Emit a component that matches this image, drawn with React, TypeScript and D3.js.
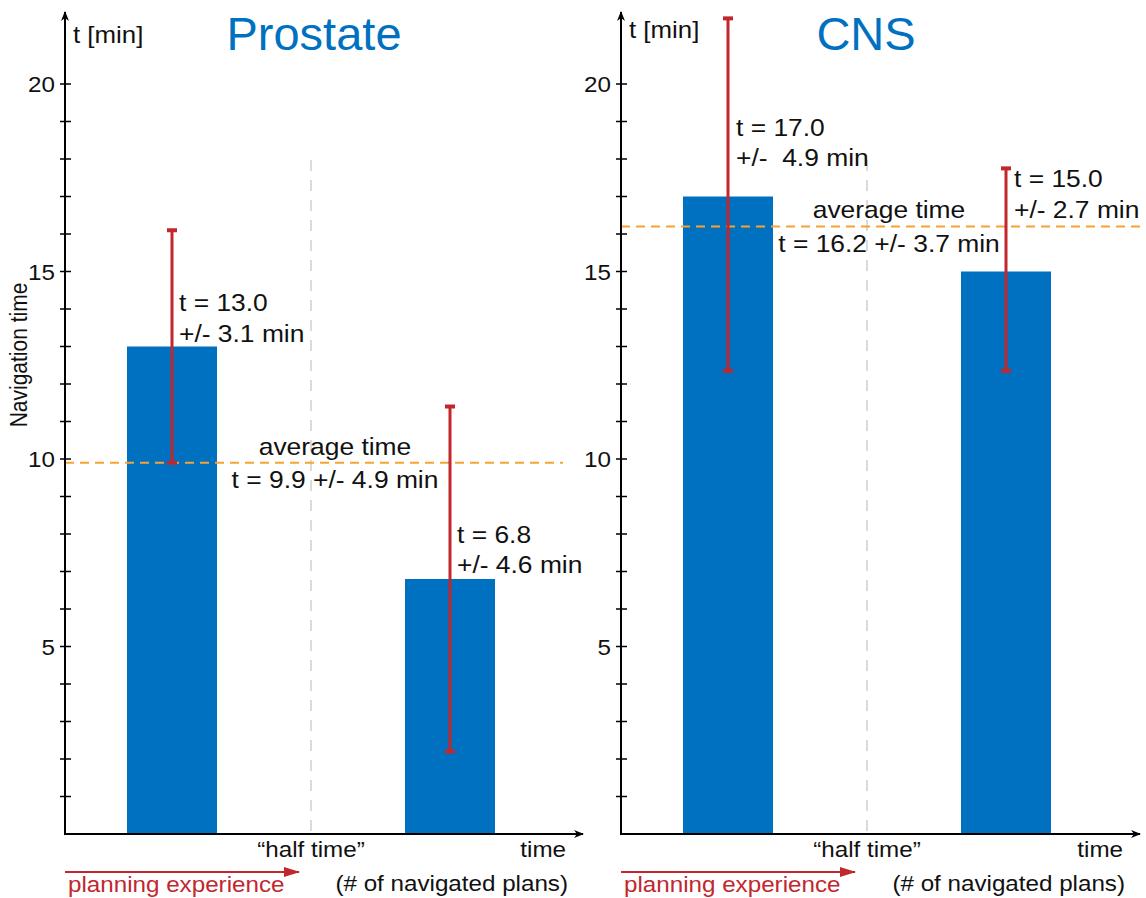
import React from "react";
import * as d3 from "d3";

const panels = ["Prostate", "CNS"];
const phases = ["first half", "second half"];
const prostateMeans = [13.0, 6.8];
const prostateLow = [9.9, 2.2];
const prostateHigh = [16.1, 11.4];
const cnsMeans = [17.0, 15.0];
const cnsLow = [12.35, 12.35];
const cnsHigh = [21.75, 17.75];
const averages = [9.9, 16.2];
const avgLabels = ["t = 9.9 +/- 4.9 min", "t = 16.2 +/- 3.7 min"];
const barLabels1 = [["t = 13.0", "t = 6.8"], ["t = 17.0", "t = 15.0"]];
const barLabels2 = [["+/- 3.1 min", "+/- 4.6 min"], ["+/-  4.9 min", "+/- 2.7 min"]];
const yTickLabels = [5, 10, 15, 20];
const minorTicks = d3.range(1, 21);

const W = 1146;
const H = 898;
const BLUE = "#0070c0";
const RED = "#c1272d";
const ORANGE = "#f7a233";
const FONT = "'Liberation Sans', Arial, Helvetica, sans-serif";
const SX = 1.1;

function T(props: { x: number; y: number; size: number; anchor?: string; fill?: string; sx?: number; children: React.ReactNode }) {
  const { x, y, size, anchor = "start", fill = "#111", sx = SX, children } = props;
  return (
    <text transform={`translate(${x},${y}) scale(${sx},1)`} fontSize={size} textAnchor={anchor} fill={fill} style={{ whiteSpace: "pre" }}>
      {children}
    </text>
  );
}

export default function App() {
  const y = d3.scaleLinear().domain([0, 20]).range([834, 84]);
  const axisX = [65, 621];
  const means = [prostateMeans, cnsMeans];
  const lows = [prostateLow, cnsLow];
  const highs = [prostateHigh, cnsHigh];
  const titleX = [314, 866];
  const axisRight = [583, 1140];
  const avgEnd = [563, 1143];
  const avgTextX = [335, 889];
  const avgTextDy = [[-8, 25], [-9, 25]];
  const labelY = [[[311, 342], [543, 573]], [[136, 166], [187, 218]]];
  const labelDx = [[7, 7], [8, 8]];
  const tminY = [43, 38];

  return (
    <svg width={W} height={H} style={{ position: "absolute", left: 0, top: 0, fontFamily: FONT }}>
      <defs>
        <marker id="ah" viewBox="0 0 10 10" refX="9" refY="5" markerWidth="10" markerHeight="10" markerUnits="userSpaceOnUse" orient="auto">
          <path d="M0,1 L10,5 L0,9 L3,5 Z" fill="#000" />
        </marker>
        <marker id="ahr" viewBox="0 0 16 10" refX="15" refY="5" markerWidth="16" markerHeight="10" markerUnits="userSpaceOnUse" orient="auto">
          <path d="M0,0 L16,5 L0,10 Z" fill={RED} />
        </marker>
      </defs>
      <rect width={W} height={H} fill="#fff" />
      {panels.map((name, p) => {
        const x0 = axisX[p];
        const x = d3.scalePoint<string>().domain(phases).range([x0 + 107, x0 + 385]);
        const half = (x(phases[0])! + x(phases[1])!) / 2;
        return (
          <g key={name}>
            <line x1={half} x2={half} y1={160} y2={y(0)} stroke="#cfcfcf" strokeWidth={1.5} strokeDasharray="11 9" />
            {phases.map((ph, i) => (
              <rect key={ph} x={x(ph)! - 45} width={90} y={y(means[p][i])} height={y(0) - y(means[p][i])} fill={BLUE} />
            ))}
            <line x1={x0} x2={avgEnd[p]} y1={y(averages[p])} y2={y(averages[p])} stroke={ORANGE} strokeWidth={2} strokeDasharray="9 6" />
            {phases.map((ph, i) => {
              const cx = x(ph)!;
              return (
                <g key={ph}>
                  <line x1={cx} x2={cx} y1={y(lows[p][i])} y2={y(highs[p][i])} stroke={RED} strokeWidth={3} />
                  <line x1={cx - 5} x2={cx + 5} y1={y(highs[p][i])} y2={y(highs[p][i])} stroke={RED} strokeWidth={4} />
                  <line x1={cx - 5} x2={cx + 5} y1={y(lows[p][i])} y2={y(lows[p][i])} stroke={RED} strokeWidth={4} />
                </g>
              );
            })}
            {phases.map((ph, i) => (
              <g key={ph}>
                <T x={x(ph)! + labelDx[p][i]} y={labelY[p][i][0]} size={24}>{barLabels1[p][i]}</T>
                <T x={x(ph)! + labelDx[p][i]} y={labelY[p][i][1]} size={24}>{barLabels2[p][i]}</T>
              </g>
            ))}
            <T x={avgTextX[p]} y={y(averages[p]) + avgTextDy[p][0]} size={24} anchor="middle">average time</T>
            <T x={avgTextX[p]} y={y(averages[p]) + avgTextDy[p][1]} size={24} anchor="middle">{avgLabels[p]}</T>
            <line x1={x0} x2={x0} y1={y(0) + 1} y2={12} stroke="#000" strokeWidth={2} markerEnd="url(#ah)" />
            <line x1={x0 - 1} x2={axisRight[p]} y1={y(0)} y2={y(0)} stroke="#000" strokeWidth={2} markerEnd="url(#ah)" />
            {minorTicks.map((t) => (
              <line key={t} x1={x0 - 5} x2={x0 + 6} y1={y(t)} y2={y(t)} stroke="#000" strokeWidth={1.5} />
            ))}
            {yTickLabels.map((t) => (
              <T key={t} x={x0 - 10} y={y(t) + 8} size={22} anchor="end">{t}</T>
            ))}
            <T x={x0 + 8} y={tminY[p]} size={23.5}>t [min]</T>
            <T x={titleX[p]} y={50} size={47} anchor="middle" fill={BLUE} sx={1}>{name}</T>
            <T x={half} y={857} size={22} anchor="middle">“half time”</T>
            <T x={axisRight[p] - 17} y={857} size={22} anchor="end">time</T>
            <T x={axisRight[p] - 15} y={891} size={22} anchor="end">(# of navigated plans)</T>
            <line x1={x0} x2={x0 + 234} y1={872} y2={872} stroke={RED} strokeWidth={2} markerEnd="url(#ahr)" />
            <T x={x0 + 3} y={892} size={22} fill={RED}>planning experience</T>
          </g>
        );
      })}
      <text transform="translate(27,355) rotate(-90) scale(1,1.1)" textAnchor="middle" fontSize={21} fill="#111">Navigation time</text>
    </svg>
  );
}
